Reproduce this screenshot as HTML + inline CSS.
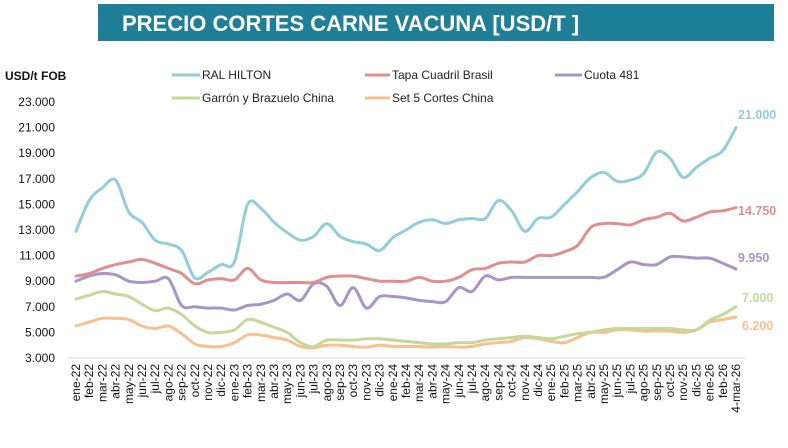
<!DOCTYPE html>
<html><head><meta charset="utf-8"><style>
body{margin:0;width:788px;height:443px;background:#fff;overflow:hidden;font-family:"Liberation Sans",sans-serif}
</style></head><body>
<svg id="s" width="788" height="443" xmlns="http://www.w3.org/2000/svg" font-family="Liberation Sans, sans-serif">
<rect x="98" y="4" width="676" height="37" fill="#1f7f98"/>
<text x="122" y="31" fill="#fff" font-size="22" font-weight="bold" font-family="Liberation Sans Narrow, Liberation Sans, sans-serif">PRECIO CORTES CARNE VACUNA [USD/T ]</text>
<text x="5" y="80" font-size="12" font-weight="bold" fill="#111">USD/t FOB</text>
<g font-size="12" fill="#111" text-anchor="end" id="yl"></g>
<line x1="68" y1="358" x2="745" y2="358" stroke="#d9d9d9" stroke-width="1"/>
<g font-size="12" fill="#222">
<line x1="172" y1="75" x2="200" y2="75" stroke="#92cddc" stroke-width="3"/><text x="202" y="79">RAL HILTON</text>
<line x1="365" y1="75" x2="390" y2="75" stroke="#e0908c" stroke-width="3"/><text x="392" y="79">Tapa Cuadril Brasil</text>
<line x1="555" y1="75" x2="582" y2="75" stroke="#a895c8" stroke-width="3"/><text x="584" y="79">Cuota 481</text>
<line x1="172" y1="98" x2="200" y2="98" stroke="#c3d89b" stroke-width="3"/><text x="202" y="102">Garrón y Brazuelo China</text>
<line x1="365" y1="98" x2="390" y2="98" stroke="#f9c08f" stroke-width="3"/><text x="392" y="102">Set 5 Cortes China</text>
</g>
<g id="lines" fill="none" stroke-width="3" stroke-linejoin="round" stroke-linecap="round"></g>
<g id="xl" font-size="12" fill="#111"></g>
<g font-size="12.5" font-weight="bold">
<text x="738" y="119" fill="#92cddc">21.000</text>
<text x="738" y="215" fill="#e0908c">14.750</text>
<text x="738" y="262" fill="#a895c8">9.950</text>
<text x="742" y="302" fill="#c3d89b">7.000</text>
<text x="742" y="330" fill="#f9c08f">6.200</text>
</g>
</svg>
<script>
var NS="http://www.w3.org/2000/svg";
function el(t,a,p,txt){var e=document.createElementNS(NS,t);for(var k in a)e.setAttribute(k,a[k]);if(txt!=null)e.textContent=txt;p.appendChild(e);return e;}
var yl=document.getElementById('yl');
for(var v=3000;v<=23000;v+=2000){var y=358-(v-3000)*0.0128;el('text',{x:55,y:y+4},yl,(v/1000).toFixed(3));}
var m=['ene','feb','mar','abr','may','jun','jul','ago','sep','oct','nov','dic'];
var labs=[];for(var yr=22;yr<=26;yr++)for(var i=0;i<12;i++){if(yr==26&&i>1)break;labs.push(m[i]+'-'+yr);}labs.push('4-mar-26');
var xl=document.getElementById('xl');
labs.forEach(function(l,i){var x=76+i*13.2;el('text',{transform:'translate('+(x+4)+',364) rotate(-90)','text-anchor':'end'},xl,l);});
var D={
'#92cddc':[12900,15300,16300,16900,14400,13600,12200,11900,11400,9250,9700,10300,10500,15000,14700,13600,12800,12200,12500,13500,12500,12100,11900,11400,12400,13000,13600,13800,13500,13800,13900,13900,15300,14500,12900,13900,14000,15000,16000,17100,17500,16800,16900,17400,19100,18600,17100,17900,18600,19200,21000],
'#e0908c':[9400,9600,10000,10300,10500,10700,10400,10000,9600,8800,9100,9200,9100,10000,9100,8900,8900,8900,8900,9300,9400,9400,9200,9000,9000,9000,9300,9000,9000,9300,9900,10000,10400,10500,10500,11000,11000,11300,11800,13200,13500,13500,13400,13800,14000,14300,13700,14000,14400,14500,14750],
'#a895c8':[9000,9400,9600,9500,9000,8900,9000,9200,7100,7000,6900,6900,6750,7100,7200,7500,8000,7500,8800,8600,7100,8500,6900,7800,7800,7700,7500,7400,7400,8500,8200,9400,9100,9300,9300,9300,9300,9300,9300,9300,9300,9900,10500,10300,10300,10900,10900,10800,10800,10400,9950],
'#c3d89b':[7600,7900,8200,8000,7800,7200,6700,6900,6400,5500,5000,5000,5200,6000,5800,5400,5000,4200,3900,4400,4400,4400,4500,4500,4400,4300,4200,4100,4100,4200,4200,4400,4500,4600,4700,4600,4500,4700,4900,5000,5200,5300,5300,5300,5300,5300,5200,5200,5950,6400,7000],
'#f9c08f':[5500,5800,6100,6100,6000,5500,5300,5500,4900,4100,3900,3900,4200,4800,4800,4600,4400,3900,3800,4000,4000,3900,3850,4000,3900,3900,3900,3850,3900,3850,3900,4100,4200,4300,4600,4500,4300,4200,4600,5000,5000,5200,5200,5100,5100,5100,5000,5200,5800,6000,6200]};
var g=document.getElementById('lines');
['#f9c08f','#c3d89b','#a895c8','#e0908c','#92cddc'].forEach(function(c){
var p=D[c].map(function(v,i){return [76+i*13.2,358-(v-3000)*0.0128];});
var d='M'+p[0][0]+','+p[0][1];
for(var i=0;i<p.length-1;i++){var p0=p[i-1]||p[i],p1=p[i],p2=p[i+1],p3=p[i+2]||p2;
d+=' C'+(p1[0]+(p2[0]-p0[0])/6)+','+(p1[1]+(p2[1]-p0[1])/6)+' '+(p2[0]-(p3[0]-p1[0])/6)+','+(p2[1]-(p3[1]-p1[1])/6)+' '+p2[0]+','+p2[1];}
el('path',{d:d,stroke:c},g);});
</script>
</body></html>
